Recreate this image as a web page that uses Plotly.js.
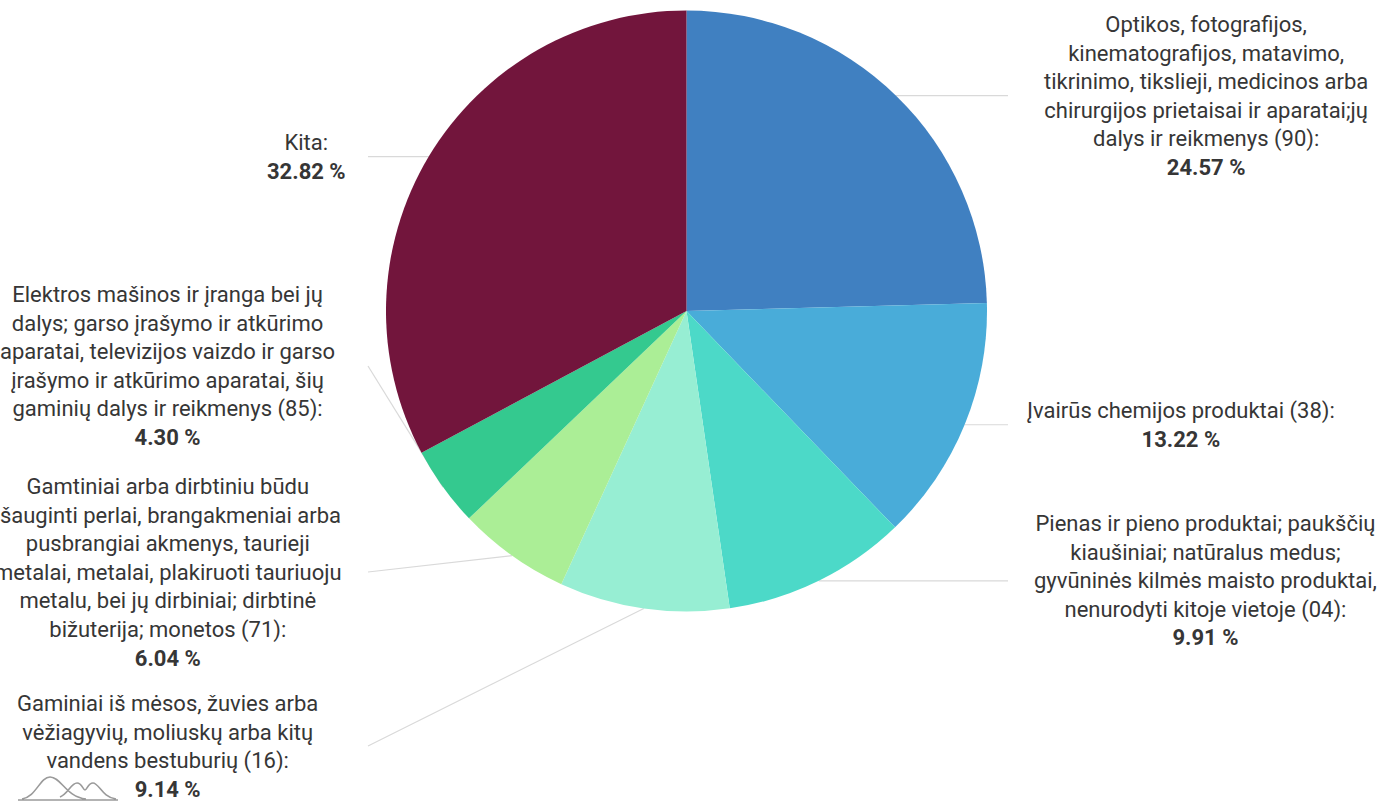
<!DOCTYPE html>
<html>
<head>
<meta charset="utf-8">
<script src="https://cdn.plot.ly/plotly-3.0.1.min.js"></script>
<style>
html,body{margin:0;padding:0;background:#fff;overflow:hidden;}
#chart{width:1386px;height:802px;}
</style>
</head>
<body>
<div id="chart"></div>
<script>
// ---- DATA ----
const labelLines = [
  ["Optikos, fotografijos,", "kinematografijos, matavimo,", "tikrinimo, tikslieji, medicinos arba", "chirurgijos prietaisai ir aparatai;jų", "dalys ir reikmenys (90)"],
  ["Įvairūs chemijos produktai (38)"],
  ["Pienas ir pieno produktai; paukščių", "kiaušiniai; natūralus medus;", "gyvūninės kilmės maisto produktai,", "nenurodyti kitoje vietoje (04)"],
  ["Gaminiai iš mėsos, žuvies arba", "vėžiagyvių, moliuskų arba kitų", "vandens bestuburių (16)"],
  ["Gamtiniai arba dirbtiniu būdu", "išauginti perlai, brangakmeniai arba", "pusbrangiai akmenys, taurieji", "metalai, metalai, plakiruoti tauriuoju", "metalu, bei jų dirbiniai; dirbtinė", "bižuterija; monetos (71)"],
  ["Elektros mašinos ir įranga bei jų", "dalys; garso įrašymo ir atkūrimo", "aparatai, televizijos vaizdo ir garso", "įrašymo ir atkūrimo aparatai, šių", "gaminių dalys ir reikmenys (85)"],
  ["Kita"]
];
const categories = labelLines.map(l => l.join(" "));
const shares = [24.57, 13.22, 9.91, 9.14, 6.04, 4.30, 32.82];
const colors = ["#4080c1", "#49acd9", "#4cd9c8", "#97eed3", "#abee96", "#34c98f", "#72153c"];

// ---- LAYOUT (pixels) ----
const W = 1386, H = 802;
const cx = 686.5, cy = 311, R = 300.5;
const anchorRightX = 1008, anchorLeftX = 368;
const labelCenterX = [1206, 1181, 1205, 167, 168, 167, 306];
const labelCenterY = [null, null, null, 746, 572, 366, null]; // null -> level of slice edge point
const px = x => x / W, py = y => 1 - y / H;

const total = shares.reduce((a, b) => a + b, 0);
const shapes = [], annotations = [];
let cum = 0;
shares.forEach((v, i) => {
  const mid = (cum + v / 2) / total * 2 * Math.PI;
  cum += v;
  const ex = cx + R * Math.sin(mid), ey = cy - R * Math.cos(mid);
  const right = Math.sin(mid) > 0;
  const ax = right ? anchorRightX : anchorLeftX;
  const ay = labelCenterY[i] == null ? ey : labelCenterY[i];
  shapes.push({type: "line", xref: "paper", yref: "paper", layer: "below",
    x0: px(ex), y0: py(ey), x1: px(ax), y1: py(ay),
    line: {color: "#d9d9d9", width: 1.2}});
  const lines = labelLines[i].slice();
  lines[lines.length - 1] += ":";
  const text = lines.join("<br>") + "<br><b>" + shares[i].toFixed(2) + " %</b>";
  annotations.push({xref: "paper", yref: "paper", x: px(labelCenterX[i]), y: py(ay),
    xanchor: "center", yanchor: "middle", align: "center", showarrow: false,
    text: text, font: {family: "Roboto, sans-serif", size: 22, color: "#363636"}});
});

// small logo at bottom-left
const logo = "M 18 800 L 118 800 " +
  "M 22 799 C 36 797, 40 777, 50 777 C 61 777, 66 797, 86 799 " +
  "M 60 797 C 68 794, 71 783, 77 783 C 82 783, 83 790, 85 790 C 87 790, 88 783, 93 783 C 99 783, 102 797, 116 799";
const logoPaper = logo.replace(/(-?\d+(\.\d+)?) (-?\d+(\.\d+)?)/g, (m, a, b, c) =>
  px(parseFloat(a)).toFixed(5) + "," + py(parseFloat(c)).toFixed(5));
shapes.push({type: "path", xref: "paper", yref: "paper", path: logoPaper,
  line: {color: "#9a9a9a", width: 1.6}});

const trace = {
  type: "pie",
  labels: categories,
  values: shares,
  sort: false,
  direction: "clockwise",
  rotation: 0,
  marker: {colors: colors, line: {width: 0}},
  textinfo: "none",
  hoverinfo: "label+percent",
  domain: {x: [px(cx - R), px(cx + R)], y: [py(cy + R), py(cy - R)]}
};

Plotly.newPlot("chart", [trace], {
  width: W, height: H,
  margin: {l: 0, r: 0, t: 0, b: 0},
  paper_bgcolor: "#ffffff",
  showlegend: false,
  shapes: shapes,
  annotations: annotations
}, {staticPlot: true});
</script>
</body>
</html>
